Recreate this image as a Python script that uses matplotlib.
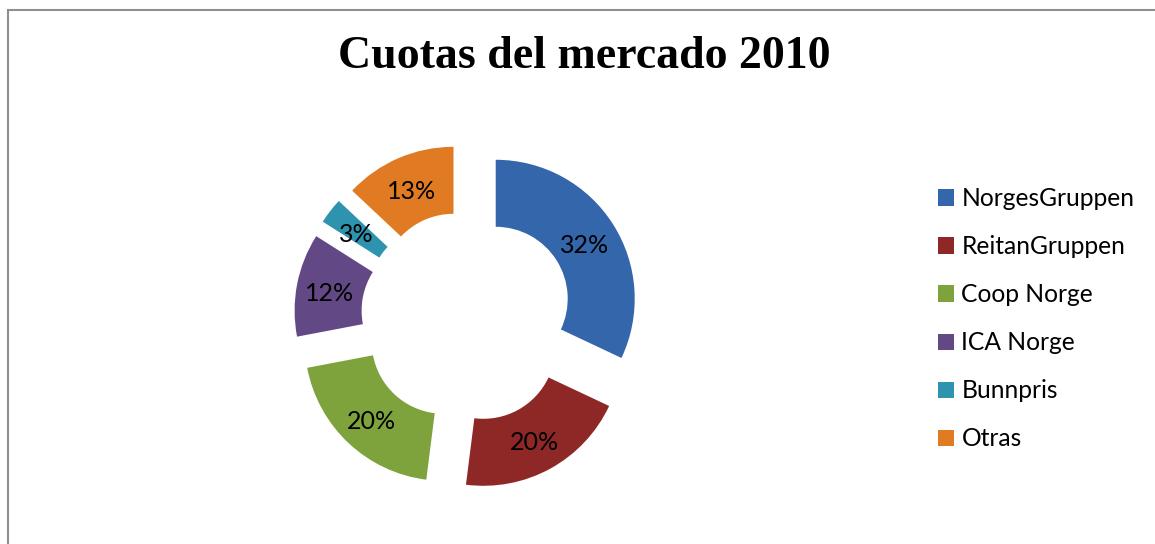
import matplotlib
matplotlib.use("Agg")
import matplotlib.pyplot as plt
from matplotlib.patches import Rectangle
import numpy as np

categories = ["NorgesGruppen", "ReitanGruppen", "Coop Norge", "ICA Norge", "Bunnpris", "Otras"]
shares = [32, 20, 20, 12, 3, 13]
labels_pct = ["32%", "20%", "20%", "12%", "3%", "13%"]
colors = ["#3466AB", "#8E2826", "#7FA33C", "#634886", "#2D93AE", "#E07B24"]
title = "Cuotas del mercado 2010"

W, H = 1155, 544
fig = plt.figure(figsize=(W / 100, H / 100), dpi=100)
fig.patch.set_facecolor("white")

# frame
fig.patches.append(Rectangle((8 / W, -0.05), 1.2, 1 - 10 / H + 0.05, transform=fig.transFigure,
                             fill=False, edgecolor="#8f8f8f", linewidth=1.5))

ax = fig.add_axes([0, 0, 1, 1])

R = 139
width = 67
wedges, texts = ax.pie(shares, colors=colors, startangle=90, counterclock=False,
                       radius=R, center=(467, H - 317), explode=[34] * len(shares),
                       wedgeprops=dict(width=width, linewidth=0), frame=True)
ax.set_xlim(0, W)
ax.set_ylim(0, H)
ax.axis("off")

for w, lab in zip(wedges, labels_pct):
    th = np.deg2rad((w.theta1 + w.theta2) / 2)
    cx, cy = w.center
    rr = R - width / 2
    ax.text(cx + rr * np.cos(th), cy + rr * np.sin(th) - 3, lab, ha="center", va="center",
            fontsize=18, family="Lato", color="black")

fig.text(584 / W, 1 - 57 / H, title, ha="center", va="center", fontsize=33,
         fontweight="bold", family="Liberation Serif")

leg = fig.legend(wedges, categories, loc="upper left", bbox_to_anchor=(916 / W, 1 - 165 / H),
                 frameon=False, prop=dict(family="Lato", size=17.7),
                 handlelength=0.65, handleheight=0.65, handletextpad=0.3, labelspacing=1.02)

fig.savefig("out.png", dpi=100)
